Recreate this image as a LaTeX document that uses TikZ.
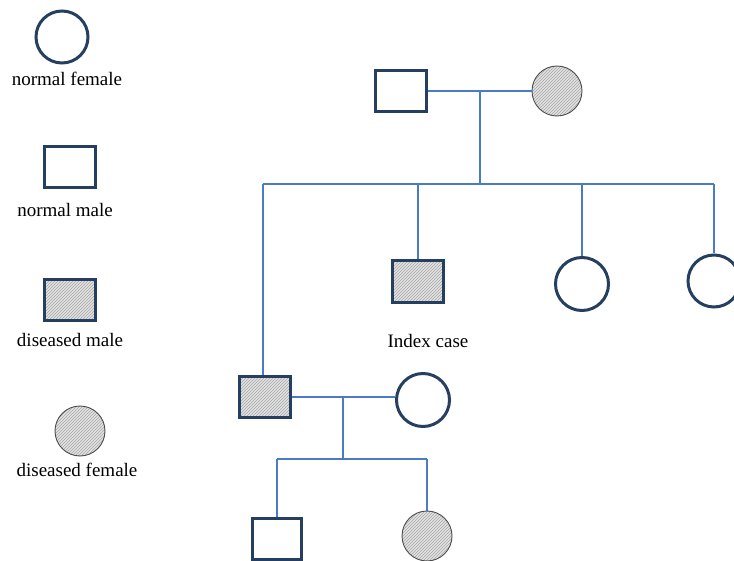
\documentclass[tikz,border=0pt]{standalone}
\usepackage{fontspec}
\setmainfont{Liberation Serif}
\usetikzlibrary{patterns}
\definecolor{navy}{HTML}{243F60}
\definecolor{linkblue}{HTML}{4A7BC6}
\begin{document}
\begin{tikzpicture}[x=1pt,y=-1pt,
  male/.style={rectangle, draw=navy, line width=3pt, minimum width=51pt, minimum height=41pt, inner sep=0pt},
  female/.style={circle, draw=navy, line width=3pt, inner sep=0pt},
  hatch/.style={preaction={fill=gray!22}, pattern=north east lines, pattern color=gray!70},
  sickfemale/.style={circle, draw=black!70, line width=0.9pt, inner sep=0pt, hatch},
  link/.style={draw=linkblue, line width=1.2pt},
  label/.style={font=\fontsize{19}{22}\selectfont, anchor=base, inner sep=0pt}]
\useasboundingbox (0,0) rectangle (734,561);
\clip (0,0) rectangle (734,561);

% legend
\node[female, minimum size=52pt] (lf) at (62,37) {};
\node[label] (lft) at (67,86) {normal female};
\node[male] (lm) at (70,167) {};
\node[label] (lmt) at (65,217) {normal male};
\node[male, hatch] (ldm) at (70,300) {};
\node[label] (ldmt) at (70,347) {diseased male};
\node[sickfemale, minimum size=50pt] (ldf) at (80,431) {};
\node[label] (ldft) at (77,476) {diseased female};

% first generation
\node[male] (f1) at (401,91) {};
\node[sickfemale, minimum size=50pt] (m1) at (557,91) {};
\coordinate (c1) at (480,91);
\coordinate (s1) at (263,184);
\coordinate (s2) at (714,184);
\coordinate (c1b) at (480,184);

% second generation
\node[male, hatch] (dm) at (265,397) {};
\node[male, hatch, minimum height=42pt] (ix) at (418,282) {};
\node[label] (ixt) at (428,348) {Index case};
\node[female, minimum size=53pt] (d2) at (582,284) {};
\node[female, minimum size=52pt] (d3) at (714,281) {};
\node[female, minimum size=53pt] (w) at (423,400) {};
\coordinate (c2) at (343,397);
\coordinate (c2b) at (343,459);
\coordinate (t1) at (277,459);
\coordinate (t2) at (427,459);

% third generation
\node[male, minimum width=49pt] (son) at (277,539) {};
\node[sickfemale, minimum size=50pt] (dau) at (427,536) {};

% connectors
\draw[link] (f1.east) -- (m1.west);
\draw[link] (c1) -- (c1b);
\draw[link] (s1) -- (s2);
\draw[link] (s1) -- (s1 |- dm.north);
\draw[link] (ix.north |- s1) -- (ix.north);
\draw[link] (d2.north |- s1) -- (d2.north);
\draw[link] (s2) -- (d3.north);
\draw[link] (dm.east) -- (w.west |- dm.east);
\draw[link] (c2) -- (c2b);
\draw[link] (t1) -- (t2);
\draw[link] (t1) -- (son.north);
\draw[link] (t2) -- (dau.north);
\end{tikzpicture}
\end{document}
